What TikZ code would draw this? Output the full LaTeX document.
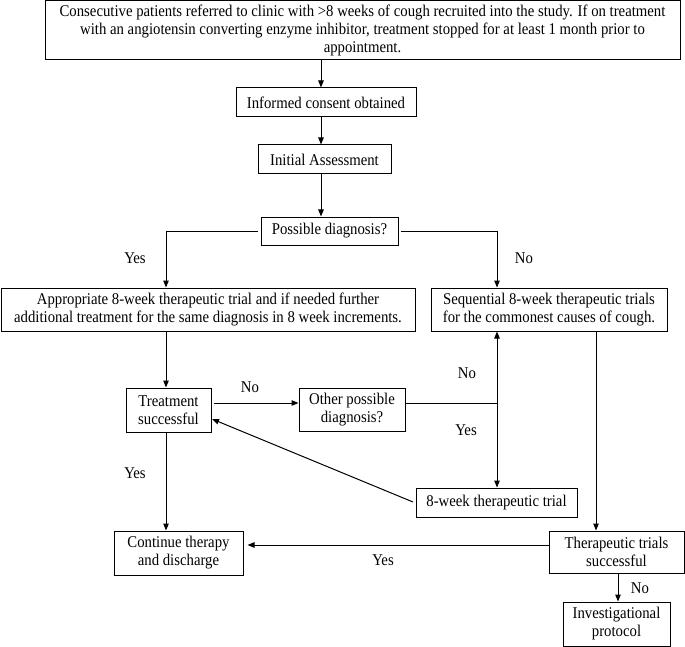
\documentclass[tikz,border=0pt]{standalone}
\usepackage{fontspec}
\setmainfont{Liberation Serif}[FakeStretch=0.9]
\usetikzlibrary{arrows.meta}
\begin{document}
\begin{tikzpicture}[x=1pt,y=-1pt,
  font=\fontsize{16.4}{18}\selectfont,
  box/.style={draw, line width=1pt, inner sep=0pt, align=center},
  ln/.style={line width=1pt},
  arr/.style={line width=1pt, -{Triangle[length=7pt,width=5.5pt]}},
  lbl/.style={inner sep=0pt}]
\useasboundingbox (0,0) rectangle (685,647);
% boxes
\node[box, minimum width=635pt, minimum height=59pt] (top) at (362.5,30.5)
  {Consecutive patients referred to clinic with >8 weeks of cough recruited into the study. If on treatment\\
   with an angiotensin converting enzyme inhibitor, treatment stopped for at least 1 month prior to\\
   appointment.};
\node[box, minimum width=180pt, minimum height=29pt] (inf) at (326,102.5) {Informed consent obtained};
\node[box, minimum width=133pt, minimum height=29pt] (init) at (324.5,159.5) {Initial Assessment};
\node[box, minimum width=137pt, minimum height=28pt] (poss) at (329.5,231) {Possible diagnosis?};
\node[box, minimum width=414pt, minimum height=43pt] (appr) at (208,309.5)
  {Appropriate 8-week therapeutic trial and if needed further\\
   additional treatment for the same diagnosis in 8 week increments.};
\node[box, minimum width=236pt, minimum height=43pt] (seq) at (549,309.5)
  {Sequential 8-week therapeutic trials\\ for the commonest causes of cough.};
\node[box, minimum width=85pt, minimum height=44pt] (treat) at (168.5,410) {Treatment\\ successful};
\node[box, minimum width=106pt, minimum height=43pt] (other) at (352,409.5) {Other possible\\ diagnosis?};
\node[box, minimum width=161pt, minimum height=29pt] (trial) at (496.5,502.5) {8-week therapeutic trial};
\node[box, minimum width=129pt, minimum height=44pt] (cont) at (178.5,553) {Continue therapy\\ and discharge};
\node[box, minimum width=135pt, minimum height=42pt] (ther) at (616.5,552) {Therapeutic trials\\ successful};
\node[box, minimum width=107pt, minimum height=44pt] (inv) at (616.5,624) {Investigational\\ protocol};
% helper coordinates
\coordinate (cx) at (321,0);
\coordinate (lx) at (166,0);
\coordinate (rx) at (497,0);
\coordinate (sx) at (596,0);
\coordinate (tx) at (618,0);
\coordinate (ly) at (0,403);
\coordinate (by) at (0,545);
\coordinate (pl) at (258,231);
\coordinate (pr) at (401,231);
\coordinate (j) at (497,403);
\coordinate (dstart) at (413,502);
\coordinate (dend) at (212,419);
% connectors
\draw[arr] (top.south -| cx) -- (inf.north -| cx);
\draw[arr] (inf.south -| cx) -- (init.north -| cx);
\draw[arr] (init.south -| cx) -- (poss.north -| cx);
\draw[arr] (pl) -| (appr.north -| lx);
\draw[arr] (pr) -| (seq.north -| rx);
\draw[arr] (appr.south -| lx) -- (treat.north -| lx);
\draw[arr] (treat.east |- ly) ++(2,0) -- (other.west |- ly);
\draw[ln] (other.east |- ly) -- (j);
\draw[arr] (j) -- (seq.south -| j);
\draw[arr] (j) -- (trial.north -| j);
\draw[arr] (dstart) -- (dend);
\draw[arr] (treat.south -| lx) -- (cont.north -| lx);
\draw[arr] (seq.south -| sx) -- (ther.north -| sx);
\draw[arr] (ther.west |- by) -- ([xshift=4pt]cont.east |- by);
\draw[arr] (ther.south -| tx) -- (inv.north -| tx);
% labels
\node[lbl] (l1) at (135,258) {Yes};
\node[lbl] (l2) at (524,258) {No};
\node[lbl] (l3) at (250,387) {No};
\node[lbl] (l4) at (467,373) {No};
\node[lbl] (l5) at (466,430) {Yes};
\node[lbl] (l6) at (135,473) {Yes};
\node[lbl] (l7) at (383,560) {Yes};
\node[lbl] (l8) at (640,588) {No};
\end{tikzpicture}
\end{document}
